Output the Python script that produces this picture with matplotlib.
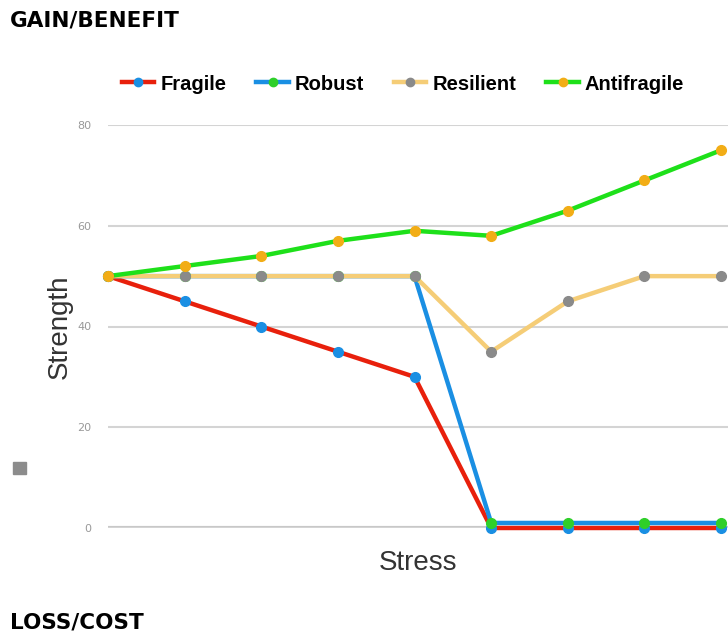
import matplotlib.pyplot as plt
from matplotlib.lines import Line2D
from matplotlib.patches import Rectangle

stress = [0, 1, 2, 3, 4, 5, 6, 7, 8]
fragile = [50, 45, 40, 35, 30, 0, 0, 0, 0]
robust = [50, 50, 50, 50, 50, 1, 1, 1, 1]
resilient = [50, 50, 50, 50, 50, 35, 45, 50, 50]
antifragile = [50, 52, 54, 57, 59, 58, 63, 69, 75]

names = ['Fragile', 'Robust', 'Resilient', 'Antifragile']
series = [fragile, robust, resilient, antifragile]
line_cols = ['#e8200c', '#1a8fe3', '#f5cd77', '#1ee01a']
dot_cols = ['#1a8fe3', '#2fcf2a', '#8a8a8a', '#f2ad16']

fig = plt.figure(figsize=(7.28, 6.32), dpi=100)
ax = fig.add_axes([108 / 728, 104 / 632, 620 / 728, 403 / 632])

for y, lc in zip(series, line_cols):
    ax.plot(stress, y, color=lc, lw=3.2, zorder=3, clip_on=False, solid_capstyle='round')
for y, dc in zip(series, dot_cols):
    ax.plot(stress, y, ls='none', marker='o', ms=7, color=dc, zorder=4, clip_on=False)

ax.set_xlim(-0.0, 8.09)
ax.set_ylim(0, 80)
ax.set_yticks([0, 20, 40, 60, 80])
ax.set_xticks([])
ax.grid(axis='y', color='#d4d4d4', lw=1.5)
ax.axhline(0, color='#c8c8c8', lw=3, zorder=1)
for s in ax.spines.values():
    s.set_visible(False)
ax.tick_params(axis='y', length=0, pad=12, labelsize=8, labelcolor='#999999')
ax.set_ylabel('Strength', fontsize=20, color='#333333', family='Liberation Sans', labelpad=3)
ax.set_xlabel('Stress', fontsize=20, color='#333333', family='Liberation Sans', labelpad=16)

handles = [Line2D([], [], color=lc, lw=3.2, marker='o', ms=6, mfc=dc, mec=dc)
           for lc, dc in zip(line_cols, dot_cols)]
fig.legend(handles, names, loc='center', bbox_to_anchor=(403 / 728, 1 - 84 / 632), ncol=4,
           frameon=False, handlelength=1.6, handletextpad=0.3, columnspacing=1.5,
           prop={'family': 'Liberation Sans', 'weight': 'bold', 'size': 14.5})

fig.text(10 / 728, 1 - 20 / 632, 'GAIN/BENEFIT', fontsize=15.5, fontweight='bold', va='center')
fig.text(10 / 728, 1 - 622 / 632, 'LOSS/COST', fontsize=15.5, fontweight='bold', va='center')
fig.patches.append(Rectangle((13 / 728, 1 - 474 / 632), 13 / 728, 12 / 632,
                             transform=fig.transFigure, color='#8c8c8c'))

fig.savefig('out.png', dpi=100)
